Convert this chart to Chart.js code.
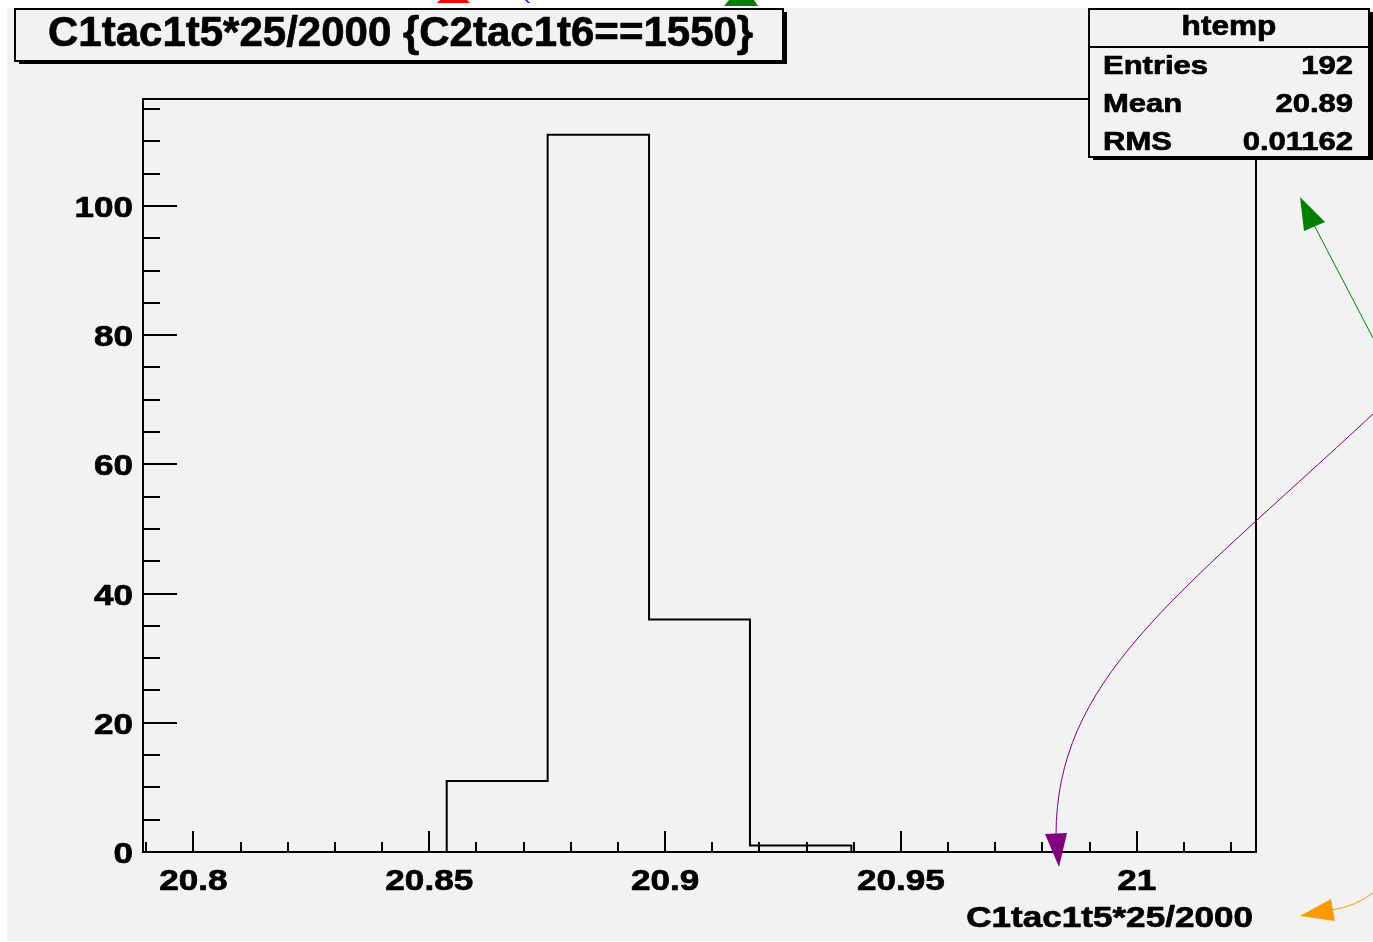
<!DOCTYPE html>
<html>
<head>
<meta charset="utf-8">
<script src="https://cdn.jsdelivr.net/npm/chart.js@4.4.1/dist/chart.umd.min.js"></script>
<style>
  html, body { margin: 0; padding: 0; background: #ffffff; }
</style>
</head>
<body>
<canvas id="myChart" width="1373" height="942"></canvas>
<script>
// histogram data
const histTitle = 'C1tac1t5*25/2000 {C2tac1t6==1550}';
const xTitle = 'C1tac1t5*25/2000';
const binEdges = [20.7893, 20.8108, 20.8322, 20.8537, 20.8751, 20.8966, 20.9180, 20.9395, 20.9610, 20.9824, 21.0039, 21.0253];
const counts = [0, 0, 0, 11, 111, 36, 1, 0, 0, 0, 0];
const xTickValues = [20.8, 20.85, 20.9, 20.95, 21];
const xTickLabels = ['20.8', '20.85', '20.9', '20.95', '21'];
const yTickValues = [0, 20, 40, 60, 80, 100];
const yTickLabels = ['0', '20', '40', '60', '80', '100'];
const yMax = 116.55;
const statsName = 'htemp';
const statsLabels = ['Entries', 'Mean', 'RMS'];
const statsValues = ['192', '20.89', '0.01162'];

const FONT = '"Liberation Sans", Arial, Helvetica, sans-serif';
const WIDE = 1.17; // root text is a bit wider than arial

function DrawText(ctx, txt, x, y, size, align, stretch) {
  ctx.save();
  ctx.font = 'bold ' + size + 'px ' + FONT;
  ctx.textAlign = align;
  ctx.textBaseline = 'alphabetic';
  ctx.fillStyle = '#000';
  ctx.strokeStyle = '#000';
  ctx.lineWidth = 0.7;
  ctx.lineJoin = 'round';
  ctx.translate(x, y);
  ctx.scale(stretch, 1);
  ctx.fillText(txt, 0, 0);
  ctx.strokeText(txt, 0, 0); // heavier, like the root png
  ctx.restore();
}

function DrawBox(ctx, x, y, w, h) {
  ctx.fillStyle = '#000';
  ctx.fillRect(x + 4, y + 3, w, h);      // shadow
  ctx.fillStyle = '#f2f2f2';
  ctx.fillRect(x, y, w, h);
  ctx.strokeStyle = '#000';
  ctx.lineWidth = 2;
  ctx.strokeRect(x, y, w, h);
}

function Tri(ctx, pts, color) {
  ctx.fillStyle = color;
  ctx.beginPath();
  ctx.moveTo(pts[0][0], pts[0][1]);
  for (let i = 1; i < pts.length; i++) ctx.lineTo(pts[i][0], pts[i][1]);
  ctx.closePath();
  ctx.fill();
}

function DrawArrows(ctx) {
  ctx.save();
  ctx.lineWidth = 1;
  // bits of arrows cut at the top
  Tri(ctx, [[440, 0], [467, 0], [470, 3], [437, 3]], '#ff0000');
  Tri(ctx, [[525, 0], [527, 0], [530, 3], [528, 3]], '#0000ff');
  Tri(ctx, [[729, 0], [754, 0], [758, 6], [724, 6]], '#008000');
  // green arrow to the stats box
  ctx.strokeStyle = '#008000';
  ctx.beginPath();
  ctx.moveTo(1373, 338);
  ctx.lineTo(1314, 225);
  ctx.stroke();
  Tri(ctx, [[1300, 197], [1325, 222], [1304, 231]], '#008000');
  // purple curved arrow
  ctx.strokeStyle = '#800080';
  ctx.beginPath();
  ctx.moveTo(1373, 414);
  ctx.bezierCurveTo(1173, 600, 1056, 680, 1056, 836);
  ctx.stroke();
  Tri(ctx, [[1059, 867], [1045, 834], [1067, 833]], '#800080');
  // orange arrow
  ctx.strokeStyle = '#ff9900';
  ctx.beginPath();
  ctx.moveTo(1332, 910);
  ctx.quadraticCurveTo(1356, 906, 1373, 893);
  ctx.stroke();
  Tri(ctx, [[1300, 916], [1331, 899], [1335, 921]], '#ff9900');
  ctx.restore();
}

const rootLook = {
  id: 'rootLook',
  beforeDraw(chart) {
    const ctx = chart.ctx;
    ctx.save();
    ctx.fillStyle = '#ffffff';
    ctx.fillRect(0, 0, chart.width, chart.height);
    ctx.fillStyle = '#f2f2f2';
    ctx.fillRect(7, 8, chart.width - 7, 933);
    ctx.restore();
  },
  afterDraw(chart) {
    const ctx = chart.ctx;
    const a = chart.chartArea;
    const sx = chart.scales.x;
    const sy = chart.scales.y;
    ctx.save();
    ctx.strokeStyle = '#000';
    ctx.lineWidth = 2;
    ctx.strokeRect(a.left, a.top, a.right - a.left, a.bottom - a.top);

    // x ticks, drawn inward: major every 0.05, minor every 0.01
    ctx.beginPath();
    for (let k = Math.ceil(sx.min * 100); k <= Math.floor(sx.max * 100); k++) {
      const px = Math.round(sx.getPixelForValue(k / 100));
      const len = (k % 5 === 0) ? 21 : 10;
      ctx.moveTo(px, a.bottom);
      ctx.lineTo(px, a.bottom - len);
    }
    // y ticks: major every 20, minor every 5
    for (let k = 0; k <= Math.floor(sy.max / 5); k++) {
      const py = Math.round(sy.getPixelForValue(k * 5));
      const len = (k % 4 === 0) ? 34 : 17;
      ctx.moveTo(a.left, py);
      ctx.lineTo(a.left + len, py);
    }
    ctx.stroke();

    xTickValues.forEach((v, i) => {
      DrawText(ctx, xTickLabels[i], sx.getPixelForValue(v), 890, 30, 'center', WIDE);
    });
    yTickValues.forEach((v, i) => {
      DrawText(ctx, yTickLabels[i], a.left - 10, sy.getPixelForValue(v) + 11, 30, 'right', WIDE);
    });
    DrawText(ctx, xTitle, a.right - 3, 927, 30, 'right', WIDE);

    // title box
    DrawBox(ctx, 15, 9, 768, 52);
    DrawText(ctx, histTitle, 48, 46, 42, 'left', 1);

    // stats box
    DrawBox(ctx, 1089, 9, 280, 148);
    ctx.beginPath();
    ctx.moveTo(1089, 47);
    ctx.lineTo(1369, 47);
    ctx.stroke();
    DrawText(ctx, statsName, 1229, 35, 27, 'center', WIDE);
    statsLabels.forEach((lbl, i) => {
      const y = 74 + i * 38;
      DrawText(ctx, lbl, 1103, y, 26.5, 'left', WIDE);
      DrawText(ctx, statsValues[i], 1353, y, 26.5, 'right', WIDE);
    });

    DrawArrows(ctx);
    ctx.restore();
  }
};

function HistPoints() {
  let pts = [];
  for (let i = 0; i < counts.length; i++) {
    pts.push({ x: binEdges[i], y: counts[i] });
  }
  pts.push({ x: binEdges[binEdges.length - 1], y: counts[counts.length - 1] });
  return pts;
}

const ctx = document.getElementById('myChart');
const myChart = new Chart(ctx, {
  type: 'line',
  data: {
    datasets: [{
      label: 'htemp',
      data: HistPoints(),
      stepped: 'before',
      borderColor: '#000',
      borderWidth: 2,
      pointRadius: 0,
      fill: false,
      clip: false
    }]
  },
  options: {
    responsive: false,
    animation: false,
    devicePixelRatio: 1,
    layout: { padding: { left: 0, right: 117, top: 99, bottom: 0 } },
    plugins: { legend: { display: false }, tooltip: { enabled: false } },
    scales: {
      x: {
        type: 'linear',
        min: binEdges[0],
        max: binEdges[binEdges.length - 1],
        afterBuildTicks: s => { s.ticks = xTickValues.map(v => ({ value: v })); },
        afterFit: s => { s.height = 90; },
        ticks: { display: false },
        grid: { display: false },
        border: { display: false }
      },
      y: {
        min: 0,
        max: yMax,
        afterBuildTicks: s => { s.ticks = yTickValues.map(v => ({ value: v })); },
        afterFit: s => { s.width = 143; },
        ticks: { display: false },
        grid: { display: false },
        border: { display: false }
      }
    }
  },
  plugins: [rootLook]
});
</script>
</body>
</html>
